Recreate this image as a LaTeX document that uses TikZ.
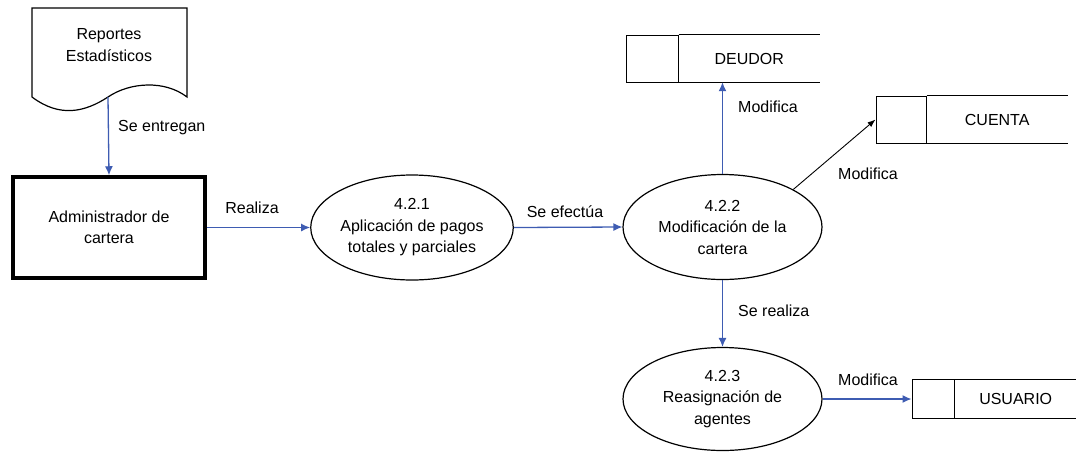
\documentclass[tikz,border=0pt]{standalone}
\usepackage{fontspec}
\setmainfont{Liberation Sans}
\usetikzlibrary{positioning,arrows.meta,shapes.geometric}
\definecolor{flowblue}{RGB}{62,92,178}
\tikzset{
  proc/.style={ellipse,draw,line width=1.2pt,minimum width=199pt,minimum height=105pt,inner sep=0pt,align=center},
  ext/.style={rectangle,draw,line width=3.5pt,minimum width=192pt,minimum height=101pt,align=center},
  storeid/.style={rectangle,draw,line width=1pt,inner sep=0pt},
  storename/.style={rectangle,inner sep=0pt},
  storeline/.style={line width=1pt},
  lbl/.style={inner sep=0pt},
  flow/.style={-{Latex[length=9pt,width=8pt]},line width=1.3pt,flowblue},
  thinflow/.style={-{Latex[length=8pt,width=6pt]},line width=0.9pt,black},
}

\begin{document}
\begin{tikzpicture}[x=1pt,y=-1pt,font=\fontsize{16}{21.5}\selectfont]
  \useasboundingbox (0,0) rectangle (1076,451);
  % reporte (documento)
  \draw[line width=1.2pt] (32,8) -- (187,8) -- (187,97)
    .. controls (165,80) and (130,82) .. (108,97)
    .. controls (85,112) and (60,118) .. (32,97) -- cycle;
  \node[align=center] (rep) at (109,45) {Reportes\\Estad\'{\i}sticos};
  \coordinate (repout) at (108,97);
  % entidad externa
  \node[ext] (admin) at (109,227.5) {Administrador de\\cartera};
  % procesos
  \node[proc] (p1) at (412,227.5) {4.2.1\\Aplicación de pagos\\totales y parciales};
  \node[proc] (p2) at (722.5,227) {4.2.2\\Modificación de la\\cartera};
  \node[proc,minimum height=103pt] (p3) at (722.5,399) {4.2.3\\Reasignación de\\agentes};
  % almacenes
  \node[storeid,minimum width=52pt,minimum height=47pt] (deudorid) at (652,58.5) {};
  \node[storename,minimum width=141pt,minimum height=47pt,right=0pt of deudorid] (deudor) {DEUDOR};
  \node[storeid,minimum width=50pt,minimum height=47pt] (cuentaid) at (901,119.5) {};
  \node[storename,minimum width=141pt,minimum height=47pt,right=0pt of cuentaid] (cuenta) {CUENTA};
  \node[storeid,minimum width=42pt,minimum height=39pt] (usuarioid) at (933,399) {};
  \node[storename,minimum width=122pt,minimum height=39pt,right=0pt of usuarioid] (usuario) {USUARIO};
  \foreach \s in {deudor,cuenta,usuario}
    \draw[storeline] (\s.north west) -- (\s.north east) (\s.south west) -- (\s.south east);
  % flujos
  \draw[flow] (repout) -- (admin.north);
  \draw[flow] (admin.east) -- (p1.west);
  \draw[flow] (p1.east) -- (p2.west);
  \draw[flow] (p2.north) -- (p2.north |- deudor.south);
  \draw[thinflow] (p2.north east) -- (cuentaid.west);
  \draw[flow] (p2.south) -- (p3.north);
  \draw[flow] (p3.east) -- (usuarioid.west);
  % etiquetas
  \node[lbl,anchor=west] (lentregan) at (118,128) {Se entregan};
  \node[lbl] (lrealiza) at (252,208) {Realiza};
  \node[lbl] (lefectua) at (565,212) {Se efectúa};
  \node[lbl,anchor=west] (lmoddeu) at (738,107) {Modifica};
  \node[lbl] (lmodcue) at (868,174) {Modifica};
  \node[lbl,anchor=west] (lsereal) at (738,311) {Se realiza};
  \node[lbl] (lmodusu) at (868,380) {Modifica};
\end{tikzpicture}
\end{document}
